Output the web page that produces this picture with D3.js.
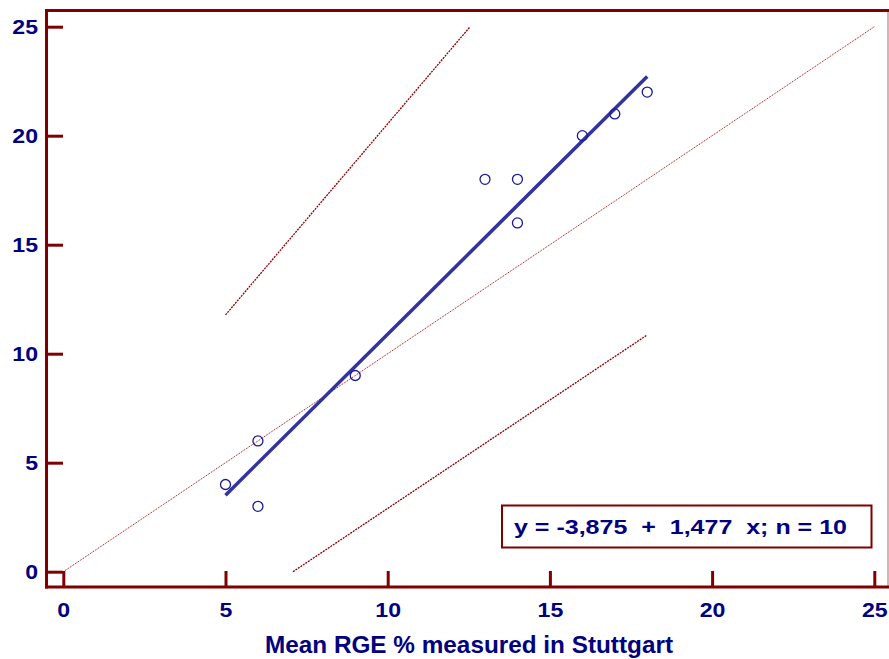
<!DOCTYPE html>
<html>
<head>
<meta charset="utf-8">
<script src="https://cdn.jsdelivr.net/npm/d3@7"></script>
<style>
  body { margin: 0; background: #fff; }
  text { font-family: "Liberation Sans", Arial, sans-serif; font-weight: bold; fill: #000080; }
</style>
</head>
<body>
<div id="chart"></div>
<script>
// measured values (x) and predicted values (y)
const xVals = [5, 6, 6, 9, 13, 14, 14, 16, 17, 18];
const yVals = [4, 6, 3, 9, 18, 18, 16, 20, 21, 22];
const tickVals = [0, 5, 10, 15, 20, 25];
const intercept = -3.875;
const slope = 1.477;
const fitRange = [5, 18];
// prediction band end points
const upperBand = [[5, 11.78], [12.54, 25]];
const lowerBand = [[7.08, 0], [18, 10.86]];
const identity = [[0, 0], [25, 25]];
const xTitle = "Mean RGE % measured in Stuttgart";
const legendText = "y = -3,875  +  1,477  x; n = 10";

const width = 889, height = 659;
const axisRed = "#800000";

let svg = d3.select("#chart").append("svg")
    .attr("width", width)
    .attr("height", height);

let x = d3.scaleLinear().domain([0, 25]).range([63.3, 874.3]);
let y = d3.scaleLinear().domain([0, 25]).range([571.7, 26.7]);

// frame
svg.append("line").attr("x1", 888).attr("x2", 888).attr("y1", 10).attr("y2", 587)
    .attr("stroke", "#b06868").attr("stroke-width", 1);
svg.append("line").attr("x1", 45).attr("x2", 889).attr("y1", 10.5).attr("y2", 10.5)
    .attr("stroke", axisRed).attr("stroke-width", 3);
svg.append("line").attr("x1", 46.5).attr("x2", 46.5).attr("y1", 9).attr("y2", 588.5)
    .attr("stroke", axisRed).attr("stroke-width", 3);
svg.append("line").attr("x1", 45).attr("x2", 889).attr("y1", 587).attr("y2", 587)
    .attr("stroke", axisRed).attr("stroke-width", 3);

// axes
let yAxis = svg.append("g")
    .attr("transform", "translate(47,0)")
    .call(d3.axisLeft(y).tickValues(tickVals).tickSize(-16).tickPadding(9));
let xAxis = svg.append("g")
    .attr("transform", "translate(0,587)")
    .call(d3.axisBottom(x).tickValues(tickVals).tickSize(-16).tickPadding(15));

[yAxis, xAxis].forEach(function (g) {
    g.select(".domain").remove();
    g.selectAll(".tick line").attr("stroke", axisRed).attr("stroke-width", 3);
    g.selectAll(".tick text").style("font-size", "21px").attr("fill", "#000080")
        .style("font-family", "Liberation Sans, Arial, sans-serif").style("font-weight", "bold");
});
// reference glyphs are a bit wider than the font
yAxis.selectAll(".tick text").attr("transform", "scale(1.1,1)").attr("x", -9 / 1.1);
xAxis.selectAll(".tick text").attr("transform", "scale(1.1,1)");

// lines
let line = d3.line().x(d => x(d[0])).y(d => y(d[1]));

svg.append("path").datum(identity).attr("d", line)
    .attr("stroke", "#a00000").attr("stroke-width", 1).attr("fill", "none")
    .attr("stroke-dasharray", "1,1");

[upperBand, lowerBand].forEach(function (b) {
    svg.append("path").datum(b).attr("d", line)
        .attr("stroke", "#900000").attr("stroke-width", 1.3).attr("fill", "none")
        .attr("stroke-dasharray", "2,1");
});

let fit = fitRange.map(v => [v, intercept + slope * v]);
svg.append("path").datum(fit).attr("d", line)
    .attr("stroke", "#3333a0").attr("stroke-width", 3.5).attr("fill", "none");

// points
svg.selectAll(".pt").data(xVals).enter().append("circle")
    .attr("class", "pt")
    .attr("cx", d => x(d))
    .attr("cy", (d, i) => y(yVals[i]))
    .attr("r", 5)
    .attr("fill", "none")
    .attr("stroke", "#1a1a9a")
    .attr("stroke-width", 1.3);

// legend
svg.append("rect").attr("x", 502).attr("y", 505.5).attr("width", 369.5).attr("height", 42)
    .attr("fill", "#fff").attr("stroke", axisRed).attr("stroke-width", 2);
svg.append("text").attr("x", 514).attr("y", 534)
    .attr("xml:space", "preserve").style("white-space", "pre")
    .attr("textLength", 333).attr("lengthAdjust", "spacingAndGlyphs")
    .style("font-size", "21px")
    .text(legendText);

// axis title
svg.append("text").attr("x", 265).attr("y", 653)
    .attr("textLength", 408).attr("lengthAdjust", "spacingAndGlyphs")
    .style("font-size", "23px")
    .text(xTitle);
</script>
</body>
</html>
